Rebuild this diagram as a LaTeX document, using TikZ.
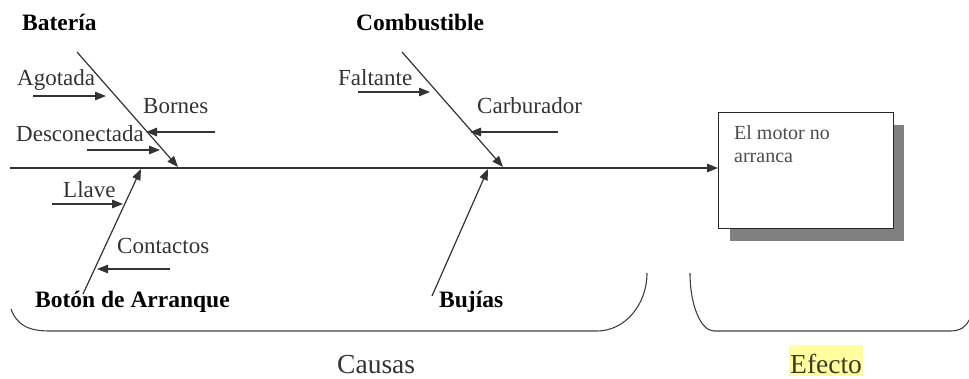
\documentclass[tikz,border=0pt]{standalone}
\usepackage{fontspec}
\setmainfont{Liberation Serif}
\newfontfamily\tms{Liberation Serif}
\usetikzlibrary{arrows.meta}
\definecolor{ink}{HTML}{333333}
\definecolor{hl}{HTML}{FFFF9E}
\tikzset{
  lbl/.style={anchor=base west, inner sep=0pt, text=ink, font=\tms\fontsize{23}{27}\selectfont},
  cat/.style={anchor=base west, inner sep=0pt, text=black, font=\tms\fontsize{23.5}{27}\selectfont\bfseries},
  big/.style={anchor=base west, inner sep=0pt, font=\tms\fontsize{27.5}{32}\selectfont},
  ln/.style={draw=black!80, line width=1.2pt},
  arr/.style={ln, -{Triangle[length=11pt,width=8.5pt]}},
  brace/.style={draw=black!75, line width=1.1pt},
}
\begin{document}
\begin{tikzpicture}[x=1pt,y=-1pt]
\useasboundingbox (0,0) rectangle (969,378);
% effect box
\fill[black!50] (730,125) rectangle (904,241);
\node[draw=black!85, fill=white, line width=1.3pt, minimum width=175pt, minimum height=116pt, anchor=north west, inner sep=0pt] (box) at (718,112) {};
\node[anchor=north west, inner sep=0pt, text=black!70, align=left, font=\tms\fontsize{20}{23}\selectfont] (boxtxt) at (734,125) {El motor no\\arranca};
% spine
\coordinate (tail) at (10,168);
\draw[arr, line width=1.4pt] (tail) -- (box.west |- tail);
% category labels
\node[cat] (bat) at (22,30) {Batería};
\node[cat] (comb) at (356,30) {Combustible};
\node[cat] (boton) at (35,307) {Botón de Arranque};
\node[cat] (buj) at (439,307) {Bujías};
% bones
\coordinate (batS) at (77,52);   \coordinate (batE) at (178,167);
\coordinate (combS) at (402,52); \coordinate (combE) at (503,167);
\coordinate (botS) at (83,294);  \coordinate (botE) at (141,169);
\coordinate (bujS) at (432,296); \coordinate (bujE) at (488,169);
\draw[arr] (batS) -- (batE);
\draw[arr] (combS) -- (combE);
\draw[arr] (botS) -- (botE);
\draw[arr] (bujS) -- (bujE);
% sub causes
\node[lbl] (agot) at (17,85) {Agotada};
\node[lbl] (born) at (143,113) {Bornes};
\node[lbl] (desc) at (16,141) {Desconectada};
\node[lbl] (llave) at (63,197) {Llave};
\node[lbl] (cont) at (117,253) {Contactos};
\node[lbl] (falt) at (338,85) {Faltante};
\node[lbl] (carb) at (477,113) {Carburador};
\coordinate (agotS) at (33,96);   \coordinate (agotE) at (106,96);
\coordinate (bornS) at (215,132); \coordinate (bornE) at (146,132);
\coordinate (descS) at (87,150);  \coordinate (descE) at (160,150);
\coordinate (llaveS) at (52,204); \coordinate (llaveE) at (123,204);
\coordinate (contS) at (170,269); \coordinate (contE) at (97,269);
\coordinate (faltS) at (358,92);  \coordinate (faltE) at (430,92);
\coordinate (carbS) at (558,132); \coordinate (carbE) at (470,132);
\foreach \a in {agot,born,desc,llave,cont,falt,carb}{
  \draw[arr] (\a S) -- (\a E);
}
% braces
\draw[brace] (11,309) .. controls (17,325) and (28,331) .. (50,331) -- (597,331)
  arc[start angle=90, end angle=0, x radius=50, y radius=58];
\draw[brace] (690,273) arc[start angle=180, end angle=90, x radius=24, y radius=58]
  -- (950,331) .. controls (960,331) and (966,327) .. (969,320);
% bottom labels
\node[big, text=black!80] (causas) at (337,373) {Causas};
\fill[hl] (789,345) rectangle (863,376);
\node[big, text=black!75!olive] (efecto) at (790,373) {Efecto};
\end{tikzpicture}
\end{document}
